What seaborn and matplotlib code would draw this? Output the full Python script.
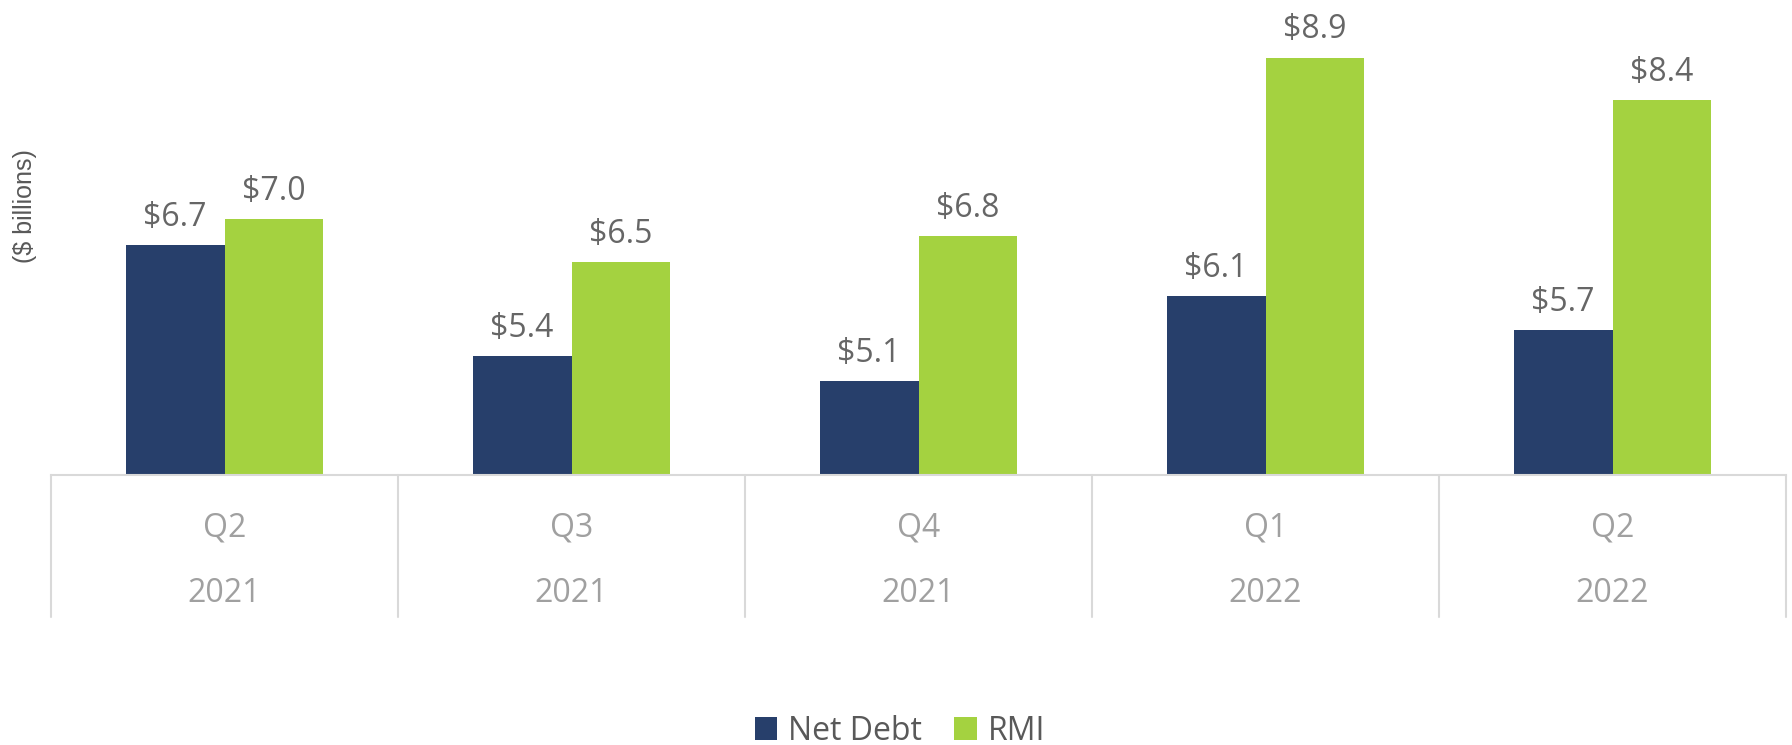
# Import the relevant packages
import numpy as np
import pandas as pd
import matplotlib.pyplot as plt
import matplotlib.transforms as mtransforms
from matplotlib.patches import Patch
import seaborn as sns

# Chart data
quarters = ["Q2", "Q3", "Q4", "Q1", "Q2"]
years = ["2021", "2021", "2021", "2022", "2022"]
net_debt = [6.7, 5.4, 5.1, 6.1, 5.7]
rmi = [7.0, 6.5, 6.8, 8.9, 8.4]
series_names = ["Net Debt", "RMI"]
series_colors = ["#273F6B", "#A4D240"]

# Build a long table for seaborn
periods = [f"{q} {y}" for q, y in zip(quarters, years)]
df = pd.DataFrame({
    "period": periods * 2,
    "series": [series_names[0]] * len(periods) + [series_names[1]] * len(periods),
    "value": net_debt + rmi,
})

sns.set_style("white")
plt.rcParams["font.family"] = ["Open Sans", "DejaVu Sans"]

fig = plt.figure(figsize=(17.92, 7.45), dpi=100)
ax = fig.add_axes([51 / 1792, 270 / 745, (1786 - 51) / 1792, 0.973 - 270 / 745])

sns.barplot(
    data=df,
    x="period",
    y="value",
    hue="series",
    order=list(dict.fromkeys(periods)),
    palette=series_colors,
    saturation=1,
    width=0.57,
    linewidth=0,
    legend=False,
    ax=ax,
)

ax.set_ylim(4.0, 9.34)
ax.set_xlim(-0.5, len(periods) - 0.5)

# Data labels above each bar
for container in ax.containers:
    ax.bar_label(
        container,
        labels=[f"${v:.1f}" for v in container.datavalues],
        padding=8,
        fontsize=23,
        color="#666666",
    )

# Clean up the axes
for side in ["top", "left", "right"]:
    ax.spines[side].set_visible(False)
ax.spines["bottom"].set_color("#D9D9D9")
ax.spines["bottom"].set_linewidth(1.5)
ax.set_xticks([])
ax.set_yticks([])
ax.set_xlabel("")
ax.set_ylabel("")

# Category table under the bars
trans = mtransforms.blended_transform_factory(ax.transData, fig.transFigure)
table_bottom = 1 - 617 / 745
table_top = 270 / 745
for edge in np.arange(-0.5, len(periods), 1.0):
    ax.plot([edge, edge], [table_bottom, table_top], transform=trans,
            color="#D9D9D9", linewidth=1.5, clip_on=False)

for i, (q, y) in enumerate(zip(quarters, years)):
    ax.text(i, 1 - 528 / 745, q, transform=trans, ha="center", va="center",
            fontsize=23, color="#A0A0A0")
    ax.text(i, 1 - 594 / 745, y, transform=trans, ha="center", va="center",
            fontsize=23, color="#A0A0A0")

# Y-axis unit label
fig.text(25 / 1792, 1 - 206 / 745, "($ billions)", rotation=90, ha="center", va="center",
         fontsize=18, color="#595959", family=["Liberation Sans", "DejaVu Sans"])

# Legend at the bottom
handles = [Patch(facecolor=c, edgecolor="none") for c in series_colors]
fig.legend(
    handles,
    series_names,
    loc="center",
    bbox_to_anchor=(900 / 1792, 14 / 745),
    ncol=2,
    frameon=False,
    fontsize=23,
    labelcolor="#595959",
    handlelength=0.7,
    handleheight=0.7,
    handletextpad=0.35,
    columnspacing=1.0,
    borderpad=0,
)

plt.savefig("out.png", dpi=100)
